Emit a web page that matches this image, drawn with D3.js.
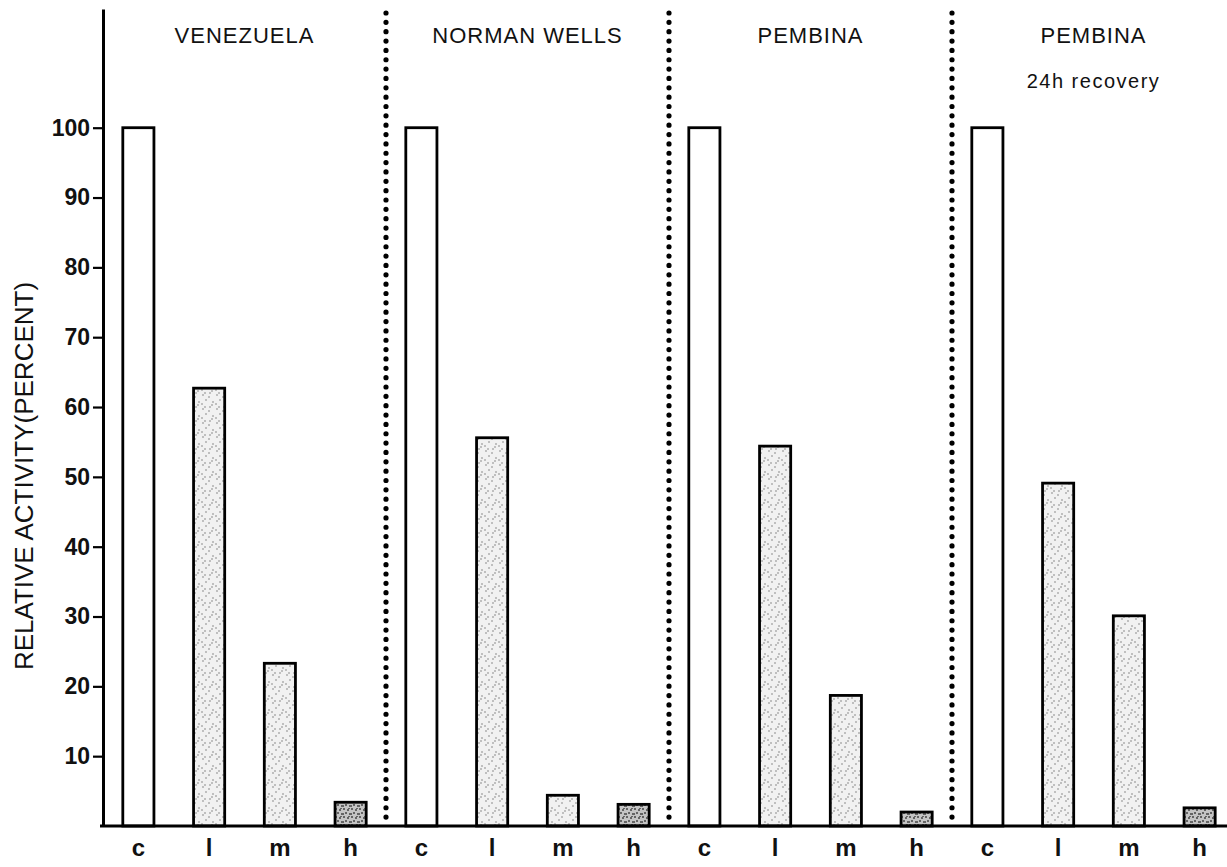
<!DOCTYPE html>
<html>
<head>
<meta charset="utf-8">
<script src="https://cdn.jsdelivr.net/npm/d3@7"></script>
<style>
  body { margin: 0; background: #fff; }
  svg { display: block; }
  text { font-family: "Liberation Sans", Arial, sans-serif; fill: #111; }
</style>
</head>
<body>
<svg id="chart"></svg>
<script>
const groups = ["VENEZUELA", "NORMAN WELLS", "PEMBINA", "PEMBINA"]
const subtitles = ["", "", "", "24h recovery"]
const fractions = ["c", "l", "m", "h"]

// relative activity (percent) per fraction c, l, m, h
const venezuela = [100, 62.7, 23.3, 3.4]
const normanWells = [100, 55.6, 4.4, 3.1]
const pembina = [100, 54.4, 18.7, 2.0]
const pembinaRecovery = [100, 49.1, 30.1, 2.6]

const yTicks = [10, 20, 30, 40, 50, 60, 70, 80, 90, 100]
const yLabel = "RELATIVE ACTIVITY(PERCENT)"

const series = [venezuela, normanWells, pembina, pembinaRecovery]

const width = 1227
const height = 867
const margin = { left: 103, right: -8, top: 9, bottom: 41 }

const svg = d3.select("#chart").attr("width", width).attr("height", height)

/*
  Stipple fills
*/
const defs = svg.append("defs")
const light = defs
  .append("pattern")
  .attr("id", "light")
  .attr("patternUnits", "userSpaceOnUse")
  .attr("width", 14)
  .attr("height", 14)
light.append("rect").attr("width", 14).attr("height", 14).attr("fill", "#f1f1f1")
;[[2, 3], [9, 1], [5, 8], [12, 10], [1, 12], [8, 5], [11, 13], [4, 1]].forEach(
  ([x, y]) => {
    light.append("circle").attr("cx", x).attr("cy", y).attr("r", 0.7).attr("fill", "#666")
  }
)

const dark = defs
  .append("pattern")
  .attr("id", "dark")
  .attr("patternUnits", "userSpaceOnUse")
  .attr("width", 8)
  .attr("height", 8)
dark.append("rect").attr("width", 8).attr("height", 8).attr("fill", "#c4c4c4")
;[[1, 1], [5, 2], [3, 5], [7, 6], [0, 6], [6, 0]].forEach(([x, y]) => {
  dark.append("circle").attr("cx", x).attr("cy", y).attr("r", 1).attr("fill", "#444")
})

const fills = { c: "#fff", l: "url(#light)", m: "url(#light)", h: "url(#dark)" }

/*
  Scales
*/
const x0 = d3
  .scaleBand()
  .domain(d3.range(groups.length))
  .range([margin.left, width - margin.right])

const x1 = d3
  .scaleBand()
  .domain(fractions)
  .range([0, x0.bandwidth()])
  .paddingInner(0.56)
  .paddingOuter(0.28)

const y = d3
  .scaleLinear()
  .domain([0, 117])
  .range([height - margin.bottom, margin.top])

/*
  Separators
*/
svg
  .append("g")
  .selectAll("line")
  .data(d3.range(1, groups.length))
  .enter()
  .append("line")
  .attr("x1", (g) => x0(g))
  .attr("x2", (g) => x0(g))
  .attr("y1", 13)
  .attr("y2", y(0) - 6)
  .attr("stroke", "#000")
  .attr("stroke-width", 5.2)
  .attr("stroke-linecap", "round")
  .attr("stroke-dasharray", "0 9.35")

/*
  Bars
*/
const group = svg
  .append("g")
  .selectAll("g")
  .data(series)
  .enter()
  .append("g")
  .attr("transform", (d, i) => "translate(" + x0(i) + ",0)")

group
  .selectAll("rect")
  .data((d) => d.map((v, j) => ({ key: fractions[j], value: v })))
  .enter()
  .append("rect")
  .attr("x", (d) => x1(d.key))
  .attr("width", x1.bandwidth())
  .attr("y", (d) => y(d.value))
  .attr("height", (d) => y(0) - y(d.value))
  .attr("fill", (d) => fills[d.key])
  .attr("stroke", "#000")
  .attr("stroke-width", 2.8)

/*
  Group titles
*/
svg
  .append("g")
  .selectAll("text")
  .data(groups)
  .enter()
  .append("text")
  .attr("x", (d, i) => x0(i) + x0.bandwidth() / 2)
  .attr("y", 43)
  .attr("text-anchor", "middle")
  .attr("font-size", 22)
  .attr("letter-spacing", 1)
  .text((d) => d)

svg
  .append("g")
  .selectAll("text")
  .data(subtitles)
  .enter()
  .append("text")
  .attr("x", (d, i) => x0(i) + x0.bandwidth() / 2)
  .attr("y", 88)
  .attr("text-anchor", "middle")
  .attr("font-size", 20)
  .attr("letter-spacing", 1.5)
  .text((d) => d)

/*
  Axes
*/
const yAxis = svg
  .append("g")
  .attr("transform", "translate(" + margin.left + ",0)")
  .call(d3.axisLeft(y).tickValues(yTicks).tickSize(10).tickPadding(3).tickSizeOuter(0))

yAxis.select(".domain").attr("stroke", "#000").attr("stroke-width", 3)
yAxis.selectAll(".tick line").attr("stroke", "#000").attr("stroke-width", 2.2)
yAxis
  .selectAll(".tick text")
  .attr("font-size", 23)
  .attr("font-weight", "bold")
  .attr("font-family", '"Liberation Sans", Arial, sans-serif')
  .attr("fill", "#111")

svg
  .append("line")
  .attr("x1", margin.left - 3)
  .attr("x2", width)
  .attr("y1", y(0))
  .attr("y2", y(0))
  .attr("stroke", "#000")
  .attr("stroke-width", 3)

// fraction labels under each bar
group
  .selectAll(".frac")
  .data(fractions)
  .enter()
  .append("text")
  .attr("class", "frac")
  .attr("x", (d) => x1(d) + x1.bandwidth() / 2)
  .attr("y", 856)
  .attr("text-anchor", "middle")
  .attr("font-size", 24)
  .attr("font-weight", "bold")
  .text((d) => d)

svg
  .append("text")
  .attr("transform", "translate(33," + 476 + ") rotate(-90)")
  .attr("text-anchor", "middle")
  .attr("font-size", 26)
  .text(yLabel)
</script>
</body>
</html>
